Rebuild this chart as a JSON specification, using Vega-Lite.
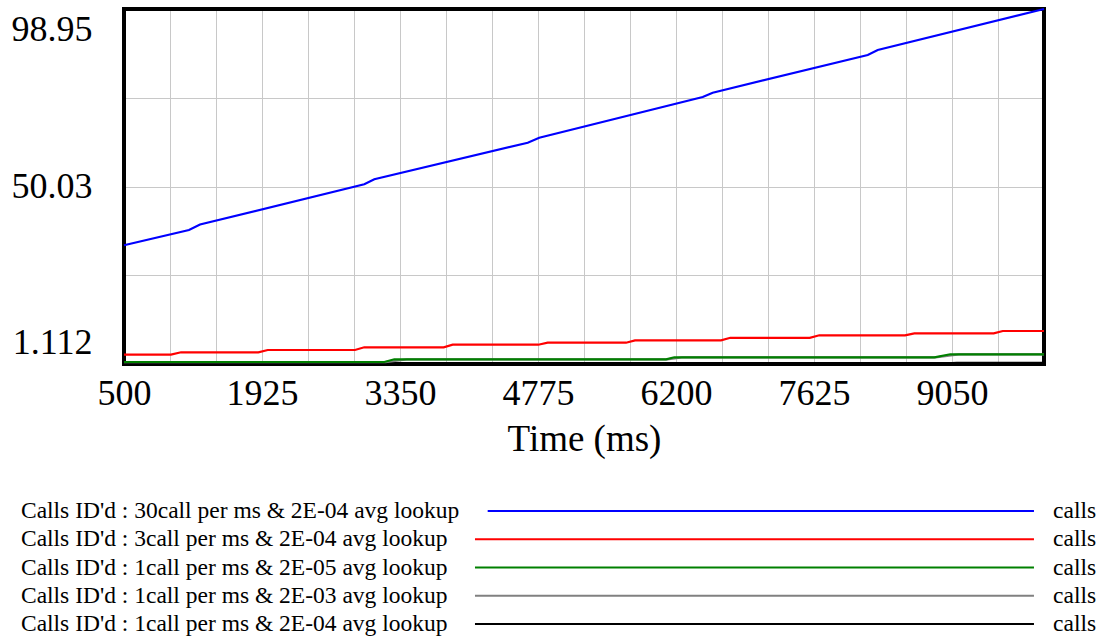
{
  "$schema": "https://vega.github.io/schema/vega-lite/v6.json",
  "padding": {"left": 11, "top": 4, "right": 0, "bottom": 0},
  "background": "white",
  "bounds": "flush",
  "spacing": 133,
  "config": {"font": "Liberation Serif", "view": {"stroke": null}},
  "datasets": {
    "calls": [
      {"s": "Calls ID'd : 1call per ms & 2E-04 avg lookup", "t": 500, "v": 1.112},
      {"s": "Calls ID'd : 1call per ms & 2E-04 avg lookup", "t": 3300, "v": 1.112},
      {"s": "Calls ID'd : 1call per ms & 2E-04 avg lookup", "t": 3420, "v": 1.2},
      {"s": "Calls ID'd : 1call per ms & 2E-04 avg lookup", "t": 6200, "v": 1.2},
      {"s": "Calls ID'd : 1call per ms & 2E-04 avg lookup", "t": 6300, "v": 1.3},
      {"s": "Calls ID'd : 1call per ms & 2E-04 avg lookup", "t": 9000, "v": 1.3},
      {"s": "Calls ID'd : 1call per ms & 2E-04 avg lookup", "t": 9100, "v": 1.4},
      {"s": "Calls ID'd : 1call per ms & 2E-04 avg lookup", "t": 10000, "v": 1.4},
      {"s": "Calls ID'd : 1call per ms & 2E-03 avg lookup", "t": 500, "v": 1.62},
      {"s": "Calls ID'd : 1call per ms & 2E-03 avg lookup", "t": 3200, "v": 1.62},
      {"s": "Calls ID'd : 1call per ms & 2E-03 avg lookup", "t": 3420, "v": 2.38},
      {"s": "Calls ID'd : 1call per ms & 2E-03 avg lookup", "t": 6110, "v": 2.38},
      {"s": "Calls ID'd : 1call per ms & 2E-03 avg lookup", "t": 6260, "v": 2.93},
      {"s": "Calls ID'd : 1call per ms & 2E-03 avg lookup", "t": 8880, "v": 2.93},
      {"s": "Calls ID'd : 1call per ms & 2E-03 avg lookup", "t": 9120, "v": 3.76},
      {"s": "Calls ID'd : 1call per ms & 2E-03 avg lookup", "t": 10000, "v": 3.76},
      {"s": "Calls ID'd : 1call per ms & 2E-05 avg lookup", "t": 500, "v": 1.66},
      {"s": "Calls ID'd : 1call per ms & 2E-05 avg lookup", "t": 3188, "v": 1.66},
      {"s": "Calls ID'd : 1call per ms & 2E-05 avg lookup", "t": 3291, "v": 2.41},
      {"s": "Calls ID'd : 1call per ms & 2E-05 avg lookup", "t": 6097, "v": 2.41},
      {"s": "Calls ID'd : 1call per ms & 2E-05 avg lookup", "t": 6182, "v": 2.96},
      {"s": "Calls ID'd : 1call per ms & 2E-05 avg lookup", "t": 8867, "v": 2.96},
      {"s": "Calls ID'd : 1call per ms & 2E-05 avg lookup", "t": 9032, "v": 3.79},
      {"s": "Calls ID'd : 1call per ms & 2E-05 avg lookup", "t": 10000, "v": 3.79},
      {"s": "Calls ID'd : 3call per ms & 2E-04 avg lookup", "t": 500, "v": 3.70},
      {"s": "Calls ID'd : 3call per ms & 2E-04 avg lookup", "t": 985, "v": 3.70},
      {"s": "Calls ID'd : 3call per ms & 2E-04 avg lookup", "t": 1089, "v": 4.34},
      {"s": "Calls ID'd : 3call per ms & 2E-04 avg lookup", "t": 1887, "v": 4.34},
      {"s": "Calls ID'd : 3call per ms & 2E-04 avg lookup", "t": 1984, "v": 4.97},
      {"s": "Calls ID'd : 3call per ms & 2E-04 avg lookup", "t": 2885, "v": 4.97},
      {"s": "Calls ID'd : 3call per ms & 2E-04 avg lookup", "t": 2981, "v": 5.71},
      {"s": "Calls ID'd : 3call per ms & 2E-04 avg lookup", "t": 3801, "v": 5.71},
      {"s": "Calls ID'd : 3call per ms & 2E-04 avg lookup", "t": 3894, "v": 6.43},
      {"s": "Calls ID'd : 3call per ms & 2E-04 avg lookup", "t": 4778, "v": 6.43},
      {"s": "Calls ID'd : 3call per ms & 2E-04 avg lookup", "t": 4875, "v": 6.98},
      {"s": "Calls ID'd : 3call per ms & 2E-04 avg lookup", "t": 5684, "v": 6.98},
      {"s": "Calls ID'd : 3call per ms & 2E-04 avg lookup", "t": 5777, "v": 7.64},
      {"s": "Calls ID'd : 3call per ms & 2E-04 avg lookup", "t": 6665, "v": 7.64},
      {"s": "Calls ID'd : 3call per ms & 2E-04 avg lookup", "t": 6761, "v": 8.33},
      {"s": "Calls ID'd : 3call per ms & 2E-04 avg lookup", "t": 7581, "v": 8.33},
      {"s": "Calls ID'd : 3call per ms & 2E-04 avg lookup", "t": 7680, "v": 9.02},
      {"s": "Calls ID'd : 3call per ms & 2E-04 avg lookup", "t": 8565, "v": 9.02},
      {"s": "Calls ID'd : 3call per ms & 2E-04 avg lookup", "t": 8661, "v": 9.57},
      {"s": "Calls ID'd : 3call per ms & 2E-04 avg lookup", "t": 9481, "v": 9.57},
      {"s": "Calls ID'd : 3call per ms & 2E-04 avg lookup", "t": 9574, "v": 10.21},
      {"s": "Calls ID'd : 3call per ms & 2E-04 avg lookup", "t": 10000, "v": 10.21},
      {"s": "Calls ID'd : 30call per ms & 2E-04 avg lookup", "t": 500, "v": 33.83},
      {"s": "Calls ID'd : 30call per ms & 2E-04 avg lookup", "t": 1171, "v": 38.04},
      {"s": "Calls ID'd : 30call per ms & 2E-04 avg lookup", "t": 1285, "v": 39.56},
      {"s": "Calls ID'd : 30call per ms & 2E-04 avg lookup", "t": 2981, "v": 50.64},
      {"s": "Calls ID'd : 30call per ms & 2E-04 avg lookup", "t": 3085, "v": 52.02},
      {"s": "Calls ID'd : 30call per ms & 2E-04 avg lookup", "t": 4669, "v": 62.10},
      {"s": "Calls ID'd : 30call per ms & 2E-04 avg lookup", "t": 4788, "v": 63.48},
      {"s": "Calls ID'd : 30call per ms & 2E-04 avg lookup", "t": 6476, "v": 74.70},
      {"s": "Calls ID'd : 30call per ms & 2E-04 avg lookup", "t": 6579, "v": 75.88},
      {"s": "Calls ID'd : 30call per ms & 2E-04 avg lookup", "t": 8180, "v": 86.27},
      {"s": "Calls ID'd : 30call per ms & 2E-04 avg lookup", "t": 8283, "v": 87.65},
      {"s": "Calls ID'd : 30call per ms & 2E-04 avg lookup", "t": 10000, "v": 98.95}
    ],
    "legend": [
      {"s": "Calls ID'd : 30call per ms & 2E-04 avg lookup"},
      {"s": "Calls ID'd : 3call per ms & 2E-04 avg lookup"},
      {"s": "Calls ID'd : 1call per ms & 2E-05 avg lookup"},
      {"s": "Calls ID'd : 1call per ms & 2E-03 avg lookup"},
      {"s": "Calls ID'd : 1call per ms & 2E-04 avg lookup"}
    ]
  },
  "vconcat": [
    {
      "width": 920,
      "height": 355,
      "layer": [
        {
          "data": {"values": [{}]},
          "mark": {"type": "rect", "fill": null, "stroke": "black", "strokeWidth": 4},
          "encoding": {
            "x": {"datum": 500, "type": "quantitative"},
            "x2": {"datum": 10000},
            "y": {"datum": 1.112, "type": "quantitative"},
            "y2": {"datum": 98.95}
          }
        },
        {
          "data": {"name": "calls"},
          "mark": {"type": "line", "strokeWidth": 2.2, "interpolate": "linear"},
          "encoding": {
            "x": {
              "field": "t", "type": "quantitative",
              "scale": {"domain": [500, 10000], "nice": false, "zero": false},
              "axis": {
                "title": "Time (ms)",
                "values": [500, 975, 1450, 1925, 2400, 2875, 3350, 3825, 4300, 4775, 5250, 5725, 6200, 6675, 7150, 7625, 8100, 8575, 9050, 9525, 10000],
                "labelExpr": "(datum.value - 500) % 1425 === 0 && datum.value < 10000 ? '' + datum.value : ''",
                "labelFlush": false,
                "labelFontSize": 36,
                "labelColor": "black",
                "labelPadding": 12,
                "ticks": false,
                "domain": false,
                "grid": true,
                "gridColor": "#c8c8c8",
                "gridWidth": 1,
                "gridOpacity": 1,
                "titleFontSize": 37,
                "titleFontWeight": "normal",
                "titleColor": "black",
                "titlePadding": 10
              }
            },
            "y": {
              "field": "v", "type": "quantitative",
              "scale": {"domain": [1.112, 98.95], "nice": false, "zero": false},
              "axis": {
                "title": null,
                "values": [1.112, 25.5715, 50.031, 74.4905, 98.95],
                "labelExpr": "datum.value === 25.5715 || datum.value === 74.4905 ? '' : format(datum.value, '.4')",
                "labelFlush": true,
                "labelFlushOffset": -3,
                "labelFontSize": 36,
                "labelColor": "black",
                "labelPadding": 32,
                "ticks": false,
                "domain": false,
                "grid": true,
                "gridColor": "#c8c8c8",
                "gridWidth": 1,
                "gridOpacity": 1
              }
            },
            "color": {
              "field": "s", "type": "nominal",
              "scale": {
                "domain": [
                  "Calls ID'd : 30call per ms & 2E-04 avg lookup",
                  "Calls ID'd : 3call per ms & 2E-04 avg lookup",
                  "Calls ID'd : 1call per ms & 2E-05 avg lookup",
                  "Calls ID'd : 1call per ms & 2E-03 avg lookup",
                  "Calls ID'd : 1call per ms & 2E-04 avg lookup"
                ],
                "range": ["#0000ff", "#ff0000", "#008000", "#808080", "#000000"]
              },
              "legend": null
            }
          }
        }
      ]
    },
    {
      "width": 920,
      "height": 141,
      "data": {"name": "legend"},
      "encoding": {
        "y": {
          "field": "s", "type": "nominal",
          "sort": [
            "Calls ID'd : 30call per ms & 2E-04 avg lookup",
            "Calls ID'd : 3call per ms & 2E-04 avg lookup",
            "Calls ID'd : 1call per ms & 2E-05 avg lookup",
            "Calls ID'd : 1call per ms & 2E-03 avg lookup",
            "Calls ID'd : 1call per ms & 2E-04 avg lookup"
          ],
          "scale": {"paddingInner": 0, "paddingOuter": 0},
          "axis": null
        }
      },
      "layer": [
        {
          "transform": [{"filter": "datum.s !== \"Calls ID'd : 30call per ms & 2E-04 avg lookup\""}],
          "mark": {"type": "rule", "strokeWidth": 2},
          "encoding": {
            "x": {"datum": 0.3815, "type": "quantitative", "scale": {"domain": [0, 1], "nice": false, "zero": false}, "axis": null},
            "x2": {"datum": 0.9891},
            "color": {"field": "s", "type": "nominal", "legend": null}
          }
        },
        {
          "transform": [{"filter": "datum.s === \"Calls ID'd : 30call per ms & 2E-04 avg lookup\""}],
          "mark": {"type": "rule", "strokeWidth": 2},
          "encoding": {
            "x": {"datum": 0.3953, "type": "quantitative"},
            "x2": {"datum": 0.9891},
            "color": {"field": "s", "type": "nominal", "legend": null}
          }
        },
        {
          "mark": {"type": "text", "align": "left", "baseline": "middle", "fontSize": 23.5, "color": "black"},
          "encoding": {
            "x": {"datum": -0.112, "type": "quantitative"},
            "text": {"field": "s"}
          }
        },
        {
          "mark": {"type": "text", "align": "left", "baseline": "middle", "fontSize": 23.5, "color": "black"},
          "encoding": {
            "x": {"datum": 1.0098, "type": "quantitative"},
            "text": {"value": "calls"}
          }
        }
      ]
    }
  ]
}
